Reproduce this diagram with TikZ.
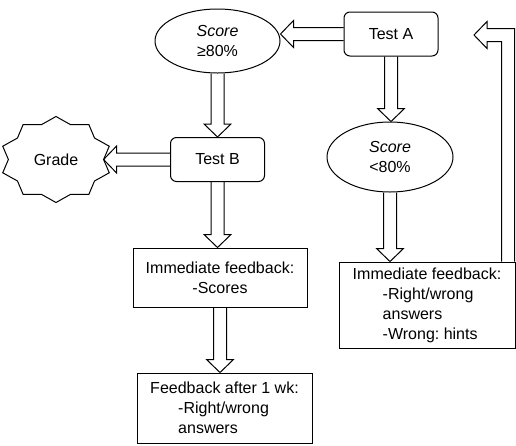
\documentclass[tikz,border=0pt]{standalone}
\usepackage{fontspec}
\setmainfont{Liberation Sans}
\usetikzlibrary{calc,shapes.geometric}
\frenchspacing

\tikzset{
  box/.style={draw, line width=1pt, font=\fontsize{16}{20}\selectfont, inner sep=0pt},
  testbox/.style={box, rounded corners=6pt, minimum width=94pt, minimum height=44pt},
  scorebubble/.style={box, ellipse, minimum width=125pt, minimum height=64pt, align=center},
  fbbox/.style={box, rectangle, minimum width=175pt},
  blockline/.style={draw, line width=1pt, line join=miter},
}
\newcommand{\blockarrow}[2]{%
  \draw[blockline] let \p1=($(#2)-(#1)$), \n1={veclen(\x1,\y1)}, \n2={atan2(\y1,\x1)} in
    [shift={(#1)}, rotate=\n2]
    (0,-6.5) -- (\n1-13,-6.5) -- (\n1-13,-13.5) -- (\n1,0)
    -- (\n1-13,13.5) -- (\n1-13,6.5) -- (0,6.5);}

\begin{document}
\begin{tikzpicture}[x=1pt, y=1pt]
  \useasboundingbox (0,0) rectangle (516,-445);

  \node[testbox] (testA) at (391,-34) {Test A};
  \node[scorebubble] (s80) at (217.5,-41) {\textit{Score}\\≥80\%};
  \node[testbox] (testB) at (217.5,-159.5) {Test B};
  \node[scorebubble, minimum width=126pt, minimum height=70pt] (s80b) at (390,-157) {\textit{Score}\\<80\%};
  \node[box, draw=none] (grade) at (56,-159.5) {Grade};
  \draw[line width=1pt, shift={(grade)}] plot[samples at={90,108,...,432}]
    ({56*(0.925+0.075*cos(10*(\x-90)))*cos(\x)}, {43*(0.925+0.075*cos(10*(\x-90)))*sin(\x)}) -- cycle;
  \coordinate (gradeE) at ($(grade)+(47.6,0)$);

  \node[fbbox, minimum width=174pt, minimum height=59pt, align=center] (fbL) at (220,-277.5)
    {Immediate feedback:\\-Scores};
  \node[fbbox, minimum height=70pt, align=left] (fbW) at (224.5,-408)
    {Feedback after 1 wk:\\\hspace*{28pt}-Right/wrong\\\hspace*{28pt}answers};
  \node[fbbox, minimum width=176pt, minimum height=86pt, align=left] (fbR) at (427,-305)
    {Immediate feedback:\\\hspace*{30pt}-Right/wrong\\\hspace*{30pt}answers\\\hspace*{30pt}-Wrong: hints};

  \coordinate (aLeft) at (testA.west -| s80.east);
  \coordinate (aDown) at (testA.south |- s80b.north);
  \coordinate (bDown) at (s80b.south |- fbR.north);
  \coordinate (tDown) at (testB.south |- fbL.north);
  \coordinate (fDown) at (fbL.south |- fbW.north);
  \coordinate (retTip) at (474,-35);

  \blockarrow{testA.west}{aLeft}
  \blockarrow{testA.south}{aDown}
  \blockarrow{s80.south}{testB.north}
  \blockarrow{testB.west}{gradeE}
  \blockarrow{testB.south}{tDown}
  \blockarrow{s80b.south}{bDown}
  \blockarrow{fbL.south}{fDown}

  \draw[blockline] ([xshift=-14pt]fbR.north east) -- ([xshift=-14pt, yshift=-6.5pt]fbR.north east |- retTip)
    -- ([xshift=13pt, yshift=-6.5pt]retTip) -- ([xshift=13pt, yshift=-13.5pt]retTip) -- (retTip)
    -- ([xshift=13pt, yshift=13.5pt]retTip) -- ([xshift=13pt, yshift=6.5pt]retTip)
    -- ([xshift=-1pt, yshift=6.5pt]fbR.north east |- retTip) -- ([xshift=-1pt]fbR.north east);
\end{tikzpicture}
\end{document}
